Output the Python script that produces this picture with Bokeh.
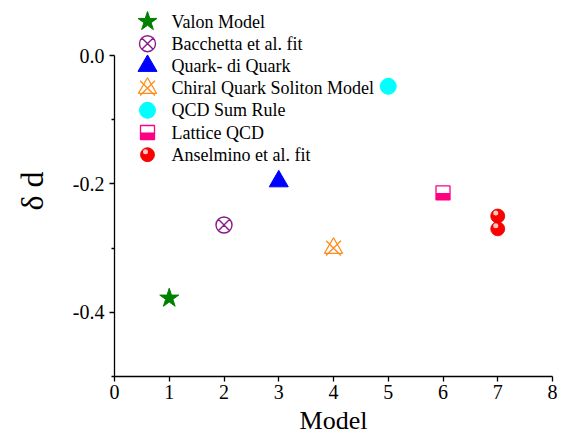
from bokeh.plotting import figure
from bokeh.models import Range1d, FixedTicker, PrintfTickFormatter, ColumnDataSource
from bokeh.transform import dodge
from bokeh.core.properties import value
from bokeh.embed import file_html
from bokeh.resources import INLINE

# ---- data -------------------------------------------------------------
x_ticks = [0, 1, 2, 3, 4, 5, 6, 7, 8]
y_major_ticks = [-0.4, -0.2, 0.0]
y_minor_ticks = [-0.5, -0.3, -0.1]

valon_x, valon_y = [1], [-0.378]
bacchetta_x, bacchetta_y = [2], [-0.264]
diquark_x, diquark_y = [3], [-0.196]
chiral_x, chiral_y = [4], [-0.300]
sumrule_x, sumrule_y = [5], [-0.048]
lattice_x, lattice_y = [6], [-0.214]
anselmino_x, anselmino_y = [7, 7], [-0.250, -0.270]

labels = ["Valon Model", "Bacchetta et al. fit", "Quark- di Quark",
          "Chiral Quark Soliton Model", "QCD Sum Rule", "Lattice QCD",
          "Anselmino et al. fit"]

# ---- layout -----------------------------------------------------------
W, H = 568, 440
LEFT, RIGHT, TOP, BOTTOM = 114, 16, 5, 64
X_MIN, X_MAX, Y_MIN, Y_MAX_AXIS = 0, 8, -0.5, 0.0
frame_w = W - LEFT - RIGHT
frame_h = H - TOP - BOTTOM
zero_pad = 50                      # px between frame top and the y=0 tick
y_top = zero_pad * (Y_MAX_AXIS - Y_MIN) / (frame_h - zero_pad)
px_x = frame_w / (X_MAX - X_MIN)
px_y = frame_h / (y_top - Y_MIN)

SERIF = "Liberation Serif"

p = figure(width=W, height=H,
           x_range=Range1d(X_MIN, X_MAX), y_range=Range1d(Y_MIN, y_top),
           min_border_left=LEFT, min_border_right=RIGHT,
           min_border_top=TOP, min_border_bottom=BOTTOM,
           output_backend="svg", toolbar_location=None,
           background_fill_color="white", border_fill_color="white",
           outline_line_color=None)
p.grid.visible = False

# pixel-space ranges for the legend keys
p.extra_x_ranges = {"px": Range1d(LEFT, W - RIGHT)}
p.extra_y_ranges = {"px": Range1d(H - BOTTOM, TOP)}

# ---- axes -------------------------------------------------------------
xa, ya = p.xaxis[0], p.yaxis[0]
xa.ticker = FixedTicker(ticks=x_ticks, minor_ticks=[])
xa.bounds = (X_MIN, X_MAX)
ya.ticker = FixedTicker(ticks=y_major_ticks, minor_ticks=y_minor_ticks)
ya.bounds = (Y_MIN, Y_MAX_AXIS)
ya.formatter = PrintfTickFormatter(format="%.1f")

for ax in (xa, ya):
    ax.axis_line_color = "black"
    ax.axis_line_width = 1.3
    ax.major_tick_line_color = "black"
    ax.major_tick_line_width = 1.3
    ax.major_tick_out = 5
    ax.major_tick_in = 0
    ax.minor_tick_line_color = "black"
    ax.minor_tick_line_width = 1.3
    ax.minor_tick_out = 3
    ax.minor_tick_in = 0
    ax.major_label_text_font = SERIF
    ax.major_label_text_font_size = "20px"
    ax.major_label_text_color = "black"
    ax.axis_label_text_font = SERIF
    ax.axis_label_text_font_style = "normal"
    ax.axis_label_text_color = "black"

xa.axis_label = "Model"
xa.axis_label_text_font_size = "26px"
xa.major_label_standoff = 3
xa.axis_label_standoff = 4

ya.axis_label = "δ d"
ya.axis_label_text_font_size = "32px"
ya.major_label_standoff = 5
ya.axis_label_standoff = 20


# ---- symbol helpers ---------------------------------------------------
def shift(col, d_px, scale):
    return dodge(col, d_px / scale)


def draw_symbol(kind, xs, ys, legend_space=False):
    src = ColumnDataSource(dict(x=xs, y=ys))
    kw = {}
    if legend_space:
        kw = dict(x_range_name="px", y_range_name="px")
        sx, sy = 1.0, 1.0          # pixel space, y grows downward
    else:
        sx, sy = px_x, -px_y       # data space, y grows upward

    if kind == "valon":
        p.scatter("x", "y", source=src, marker="star", size=20,
                  fill_color="#008000", line_color="#008000", **kw)
    elif kind == "bacchetta":
        p.scatter("x", "y", source=src, marker="circle_x", size=16,
                  fill_color=None, line_color="#8B1A8B", line_width=1.4, **kw)
    elif kind == "diquark":
        p.scatter("x", "y", source=src, marker="triangle", size=19,
                  fill_color="#0000FF", line_color="#0000FF", **kw)
    elif kind == "chiral":
        p.scatter("x", "y", source=src, marker="triangle", size=18,
                  fill_color=None, line_color="#FF8C1A", line_width=1.3, **kw)
        p.scatter("x", "y", source=src, marker="x", size=21,
                  line_color="#FF8C1A", line_width=1.3, **kw)
    elif kind == "sumrule":
        p.scatter("x", "y", source=src, marker="circle", size=16,
                  fill_color="#00FFFF", line_color="#00FFFF", **kw)
    elif kind == "lattice":
        p.rect(x="x", y=shift("y", 3.5, sy), source=src, width=14, height=7,
               width_units="screen", height_units="screen",
               fill_color="#FF0080", line_color=None, **kw)
        p.scatter("x", "y", source=src, marker="square", size=14,
                  fill_color=None, line_color="#FF0080", line_width=1.3, **kw)
    elif kind == "anselmino":
        p.scatter("x", "y", source=src, marker="circle", size=14,
                  fill_color="#FF0000", line_color="#E00000", line_width=0.8, **kw)
        p.scatter(shift("x", -2, sx), shift("y", -3, sy), source=src,
                  marker="circle", size=5, fill_color="#FFC8C8",
                  line_color=None, **kw)


series = [
    ("valon", valon_x, valon_y),
    ("bacchetta", bacchetta_x, bacchetta_y),
    ("diquark", diquark_x, diquark_y),
    ("chiral", chiral_x, chiral_y),
    ("sumrule", sumrule_x, sumrule_y),
    ("lattice", lattice_x, lattice_y),
    ("anselmino", anselmino_x, anselmino_y),
]

for kind, xs, ys in series:
    draw_symbol(kind, xs, ys)

# ---- legend (keys in pixel space) --------------------------------------
key_x, text_x, row0, pitch = 147, 171, 21.0, 22.2
rows = [row0 + i * pitch for i in range(len(labels))]
for (kind, _, _), ry in zip(series, rows):
    draw_symbol(kind, [key_x], [ry], legend_space=True)

p.text(x=[text_x] * len(labels), y=rows, text=labels,
       text_font=value(SERIF), text_font_size="18px",
       text_baseline="middle", text_align="left", text_color="black",
       x_range_name="px", y_range_name="px")

open("out.html", "w").write(file_html(p, INLINE))
